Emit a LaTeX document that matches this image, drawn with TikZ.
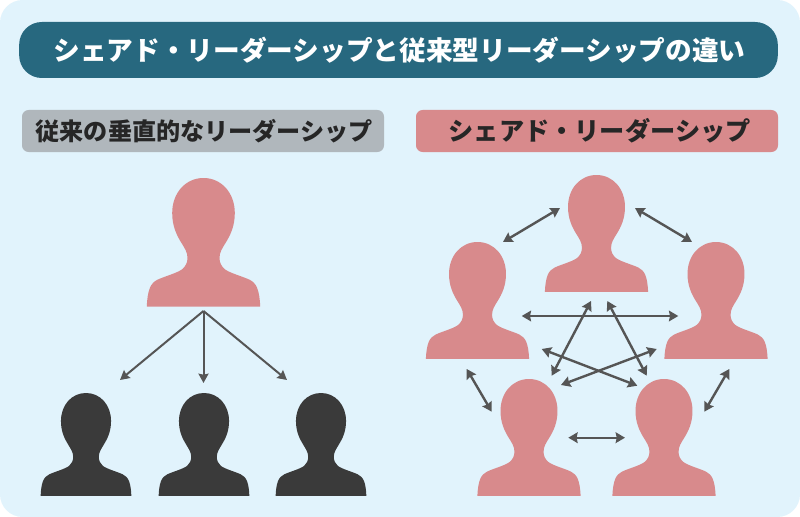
\documentclass[tikz,border=0pt]{standalone}
\usepackage{fontspec}
\setmainfont{Noto Sans CJK JP}
\usetikzlibrary{arrows.meta}
\definecolor{bgblue}{HTML}{E1F3FC}
\definecolor{titleblue}{HTML}{27687F}
\definecolor{greyband}{HTML}{B0B7BC}
\definecolor{pinkband}{HTML}{D88A8C}
\definecolor{darkfig}{HTML}{3A3A3A}
\definecolor{arrowgrey}{HTML}{555555}
\tikzset{
  x=0.75pt,y=-0.75pt,
  band/.style={rounded corners=5pt,minimum height=31.5pt,minimum width=271.5pt,inner sep=0pt,text=black!85,font=\bfseries},
  person/.pic={
    \fill[pic actions] (0,0)
      .. controls (18,0) and (31.3,15) .. (31.3,35)
      .. controls (31.3,48) and (27,57) .. (22,65)
      .. controls (19,70) and (16,74) .. (16,80)
      .. controls (16,85) and (18,88) .. (21,91)
      .. controls (26,95) and (38,98) .. (46,101.7)
      .. controls (53,105) and (56,112) .. (56.7,128.5)
      -- (-56.7,128.5)
      .. controls (-56,112) and (-53,105) .. (-46,101.7)
      .. controls (-38,98) and (-26,95) .. (-21,91)
      .. controls (-18,88) and (-16,85) .. (-16,80)
      .. controls (-16,74) and (-19,70) .. (-22,65)
      .. controls (-27,57) and (-31.3,48) .. (-31.3,35)
      .. controls (-31.3,15) and (-18,0) .. (0,0) -- cycle;
  },
  link/.style={draw=arrowgrey,line width=1.8pt,{Stealth[length=7pt,width=8pt,inset=0.8pt]}-{Stealth[length=7pt,width=8pt,inset=0.8pt]}},
  flow/.style={draw=arrowgrey,line width=1.5pt,-{Stealth[length=7pt,width=7.5pt,inset=0.8pt]}},
}
\begin{document}
\begin{tikzpicture}
\useasboundingbox (0,0) rectangle (800,517);
\fill[white] (0,0) rectangle (800,517);
\fill[bgblue,rounded corners=17pt] (0,0) rectangle (800,517);
\node[fill=titleblue,rounded corners=17pt,minimum width=569pt,minimum height=42pt,inner sep=0pt,text=white,font=\bfseries] (title) at (398.5,50)
  {\hspace{1.5pt}\fontsize{20pt}{22pt}\selectfont シェアド・リーダーシップと従来型リーダーシップの違い};
\node[band,fill=greyband] (left) at (203,131) {\hspace{2pt}\fontsize{18.1pt}{20pt}\selectfont 従来の垂直的なリーダーシップ};
\node[band,fill=pinkband] (right) at (597,131) {\hspace{4pt}\fontsize{18.9pt}{20pt}\selectfont シェアド・リーダーシップ};

% left hierarchy
\pic[fill=pinkband] at (203.5,178) {person};
\pic[fill=darkfig,scale=0.8] at (86,393) {person};
\pic[fill=darkfig,scale=0.8] at (204,393) {person};
\pic[fill=darkfig,scale=0.8] at (321,393) {person};
\coordinate (boss) at (203.5,311);
\coordinate (m1) at (120,380);
\coordinate (m2) at (203.5,383);
\coordinate (m3) at (287,380);
\draw[flow] (boss) -- (m1);
\draw[flow] (boss) -- (m2);
\draw[flow] (boss) -- (m3);

% right network
\pic[fill=pinkband,scale=0.91] at (596.5,175) {person};
\pic[fill=pinkband,scale=0.91] at (477.5,242) {person};
\pic[fill=pinkband,scale=0.91] at (716,242) {person};
\pic[fill=pinkband,scale=0.91] at (529,379) {person};
\pic[fill=pinkband,scale=0.91] at (664,379) {person};

\coordinate (a1) at (503,242); \coordinate (a2) at (560,208);
\coordinate (b1) at (635,208); \coordinate (b2) at (692,242);
\coordinate (c1) at (521.7,316); \coordinate (c2) at (678.3,316);
\coordinate (d1) at (591,301); \coordinate (d2) at (551.7,375.7);
\coordinate (e1) at (607.3,301); \coordinate (e2) at (646.7,375.7);
\coordinate (f1) at (541.7,349); \coordinate (f2) at (637.3,385.7);
\coordinate (g1) at (656.7,349); \coordinate (g2) at (561,385);
\coordinate (h1) at (466.7,369); \coordinate (h2) at (491.7,411.7);
\coordinate (i1) at (729.3,369); \coordinate (i2) at (704.3,411.7);
\coordinate (j1) at (568.3,437.7); \coordinate (j2) at (625,437.7);
\foreach \p in {a,b,c,d,e,f,g,h,i,j} \draw[link] (\p1) -- (\p2);
\end{tikzpicture}
\end{document}
